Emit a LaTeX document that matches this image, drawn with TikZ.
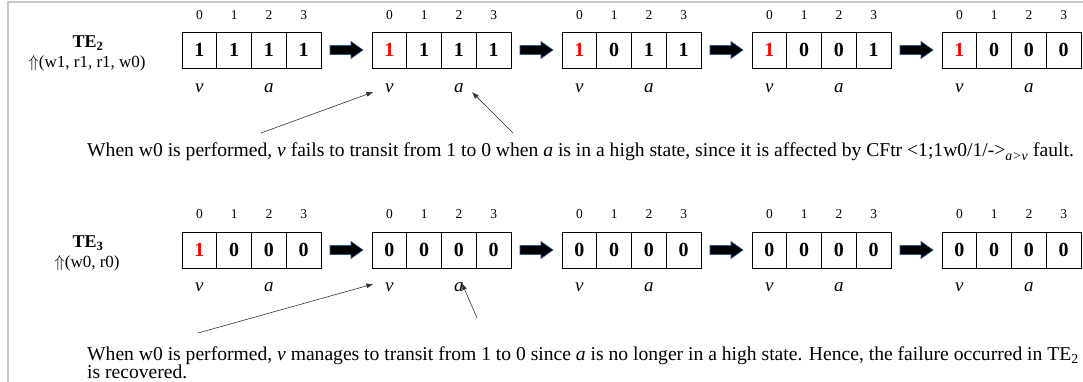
\documentclass[tikz,border=0pt]{standalone}
\usepackage{fontspec}
\setmainfont{Liberation Serif}
\usetikzlibrary{calc,arrows.meta}
\definecolor{framegray}{HTML}{C8C8C8}
\definecolor{arrowedge}{HTML}{2F5597}
\newcommand\rd[1]{\textcolor{red}{#1}}
\begin{document}
\begin{tikzpicture}[x=1pt,y=-1pt,
  cell/.style={draw, line width=0.9pt, minimum width=34.75pt, minimum height=36pt, inner sep=0pt, font=\fontsize{20}{20}\selectfont\bfseries},
  idx/.style={font=\fontsize{13.5}{13.5}\selectfont, inner sep=0pt},
  var/.style={font=\fontsize{19}{19}\selectfont\itshape, inner sep=0pt},
  telabel/.style={font=\fontsize{18}{18}\selectfont\bfseries, inner sep=0pt},
  oplabel/.style={font=\fontsize{17}{17}\selectfont, inner sep=0pt},
  caption/.style={font=\fontsize{19.6}{20}\selectfont, inner sep=0pt, anchor=base west},
  blockarrow/.style={fill=black, draw=arrowedge, line width=0.6pt, line join=miter},
  ann/.style={draw=black!80, line width=0.6pt, -{Latex[length=7pt,width=5pt]}}
]
\useasboundingbox (0,0) rectangle (1083,382);
\fill[white] (0,0) rectangle (1083,382);
\draw[framegray, line width=2pt] (7.5,383) -- (7.5,2.5) -- (1084,2.5);

% row 1
\node[telabel] (te2) at (88,43) {TE\textsubscript{2}};
\node[oplabel] (op2) at (87,63) {$\Uparrow$(w1, r1, r1, w0)};
\foreach \k/\a/\b/\c/\d in {0/1/1/1/1, 1/\rd1/1/1/1, 2/\rd1/0/1/1, 3/\rd1/0/0/1, 4/\rd1/0/0/0}{
  \pgfmathsetmacro\bx{182+190*\k}
  \node[cell] (r1b\k-0) at (\bx+17.375,50) {\a};
  \node[cell] (r1b\k-1) at (\bx+52.125,50) {\b};
  \node[cell] (r1b\k-2) at (\bx+86.875,50) {\c};
  \node[cell] (r1b\k-3) at (\bx+121.625,50) {\d};
  \node[idx] (r1i\k-0) at (\bx+17.375,15) {0};
  \node[idx] (r1i\k-1) at (\bx+52.125,15) {1};
  \node[idx] (r1i\k-2) at (\bx+86.875,15) {2};
  \node[idx] (r1i\k-3) at (\bx+121.625,15) {3};
  \node[var] (r1v\k) at (\bx+17.375,88) {v};
  \node[var] (r1a\k) at (\bx+86.875,88) {a};
}
\foreach \k in {0,1,2,3}{
  \pgfmathsetmacro\ax{330+190*\k}
  \draw[blockarrow] (\ax,45.5) -- (\ax+21,45.5) -- (\ax+21,41.5) -- (\ax+33,50) -- (\ax+21,58.5) -- (\ax+21,54.5) -- (\ax,54.5) -- cycle;
}
\coordinate (s1) at (261,133);
\coordinate (s2) at (513,133);
\draw[ann] (s1) -- ($(r1v1)+(-16,4)$);
\draw[ann] (s2) -- ($(r1a1)+(13,4)$);
\node[caption] (cap1) at (87,157) {When w0 is performed, \textit{v} fails to transit from 1 to 0 when \textit{a} is in a high state, since it is affected by CFtr \textless1;1w0/1/-\textgreater\textsubscript{\itshape a\textgreater v} fault.};

% row 2
\node[telabel] (te3) at (88,243) {TE\textsubscript{3}};
\node[oplabel] (op3) at (87,263) {$\Uparrow$(w0, r0)};
\foreach \k/\a/\b/\c/\d in {0/\rd1/0/0/0, 1/0/0/0/0, 2/0/0/0/0, 3/0/0/0/0, 4/0/0/0/0}{
  \pgfmathsetmacro\bx{182+190*\k}
  \node[cell] (r2b\k-0) at (\bx+17.375,250) {\a};
  \node[cell] (r2b\k-1) at (\bx+52.125,250) {\b};
  \node[cell] (r2b\k-2) at (\bx+86.875,250) {\c};
  \node[cell] (r2b\k-3) at (\bx+121.625,250) {\d};
  \node[idx] (r2i\k-0) at (\bx+17.375,214) {0};
  \node[idx] (r2i\k-1) at (\bx+52.125,214) {1};
  \node[idx] (r2i\k-2) at (\bx+86.875,214) {2};
  \node[idx] (r2i\k-3) at (\bx+121.625,214) {3};
  \node[var] (r2v\k) at (\bx+17.375,287) {v};
  \node[var] (r2a\k) at (\bx+86.875,287) {a};
}
\foreach \k in {0,1,2,3}{
  \pgfmathsetmacro\ax{330+190*\k}
  \draw[blockarrow] (\ax,245.5) -- (\ax+21,245.5) -- (\ax+21,241.5) -- (\ax+33,250) -- (\ax+21,258.5) -- (\ax+21,254.5) -- (\ax,254.5) -- cycle;
}
\coordinate (s3) at (198,333);
\coordinate (s4) at (477,318);
\draw[ann] (s3) -- ($(r2v1)+(-16,-3)$);
\draw[ann] (s4) -- ($(r2a1)+(3,-4)$);
\node[caption] (cap2) at (87,360) {When w0 is performed, \textit{v} manages to transit from 1 to 0 since \textit{a} is no longer in a high state. Hence, the failure occurred in TE\textsubscript{2}};
\node[caption] (cap2b) at (87,378.5) {is recovered.};
\end{tikzpicture}
\end{document}
